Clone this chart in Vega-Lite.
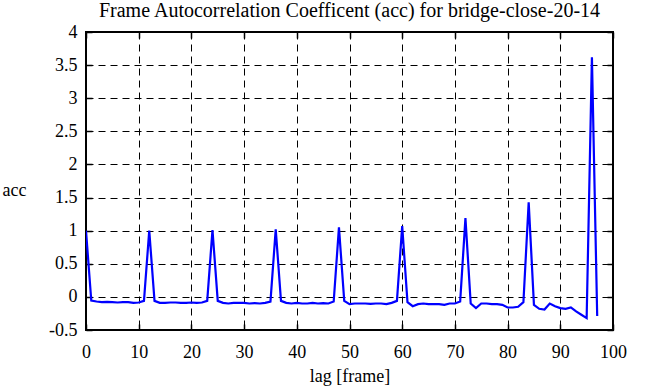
{
  "$schema": "https://vega.github.io/schema/vega-lite/v6.json",
  "width": 527,
  "height": 298,
  "autosize": {"type": "none"},
  "padding": {"left": 86, "top": 32, "right": 53, "bottom": 57},
  "background": "white",
  "title": {
    "text": "Frame Autocorrelation Coefficent (acc) for bridge-close-20-14",
    "font": "Liberation Serif",
    "fontSize": 20,
    "fontWeight": "normal",
    "color": "black",
    "anchor": "middle",
    "offset": 12,
    "dy": 10
  },
  "config": {
    "view": {"stroke": "black", "strokeWidth": 2},
    "axis": {
      "labelFont": "Liberation Serif",
      "titleFont": "Liberation Serif",
      "labelFontSize": 18,
      "titleFontSize": 18,
      "titleFontWeight": "normal",
      "labelColor": "black",
      "titleColor": "black",
      "domain": false,
      "tickColor": "black",
      "tickWidth": 1.5,
      "gridColor": "black",
      "gridDash": [7, 5],
      "gridWidth": 1,
      "gridOpacity": 1
    }
  },
  "data": {
    "values": [
      {"lag": 0, "acc": 1.0}, {"lag": 1, "acc": -0.055}, {"lag": 2, "acc": -0.07}, {"lag": 3, "acc": -0.08},
      {"lag": 4, "acc": -0.075}, {"lag": 5, "acc": -0.08}, {"lag": 6, "acc": -0.085}, {"lag": 7, "acc": -0.08},
      {"lag": 8, "acc": -0.08}, {"lag": 9, "acc": -0.09}, {"lag": 10, "acc": -0.085}, {"lag": 11, "acc": -0.06},
      {"lag": 12, "acc": 1.0}, {"lag": 13, "acc": -0.06}, {"lag": 14, "acc": -0.09}, {"lag": 15, "acc": -0.09},
      {"lag": 16, "acc": -0.085}, {"lag": 17, "acc": -0.085}, {"lag": 18, "acc": -0.09}, {"lag": 19, "acc": -0.09},
      {"lag": 20, "acc": -0.085}, {"lag": 21, "acc": -0.09}, {"lag": 22, "acc": -0.085}, {"lag": 23, "acc": -0.06},
      {"lag": 24, "acc": 1.01}, {"lag": 25, "acc": -0.06}, {"lag": 26, "acc": -0.09}, {"lag": 27, "acc": -0.1},
      {"lag": 28, "acc": -0.09}, {"lag": 29, "acc": -0.09}, {"lag": 30, "acc": -0.09}, {"lag": 31, "acc": -0.1},
      {"lag": 32, "acc": -0.095}, {"lag": 33, "acc": -0.1}, {"lag": 34, "acc": -0.09}, {"lag": 35, "acc": -0.07},
      {"lag": 36, "acc": 1.02}, {"lag": 37, "acc": -0.06}, {"lag": 38, "acc": -0.09}, {"lag": 39, "acc": -0.1},
      {"lag": 40, "acc": -0.09}, {"lag": 41, "acc": -0.1}, {"lag": 42, "acc": -0.1}, {"lag": 43, "acc": -0.09},
      {"lag": 44, "acc": -0.1}, {"lag": 45, "acc": -0.095}, {"lag": 46, "acc": -0.1}, {"lag": 47, "acc": -0.07},
      {"lag": 48, "acc": 1.05}, {"lag": 49, "acc": -0.06}, {"lag": 50, "acc": -0.11}, {"lag": 51, "acc": -0.1},
      {"lag": 52, "acc": -0.1}, {"lag": 53, "acc": -0.1}, {"lag": 54, "acc": -0.105}, {"lag": 55, "acc": -0.1},
      {"lag": 56, "acc": -0.1}, {"lag": 57, "acc": -0.11}, {"lag": 58, "acc": -0.09}, {"lag": 59, "acc": -0.06},
      {"lag": 60, "acc": 1.07}, {"lag": 61, "acc": -0.08}, {"lag": 62, "acc": -0.14}, {"lag": 63, "acc": -0.11},
      {"lag": 64, "acc": -0.1}, {"lag": 65, "acc": -0.11}, {"lag": 66, "acc": -0.11}, {"lag": 67, "acc": -0.11},
      {"lag": 68, "acc": -0.12}, {"lag": 69, "acc": -0.1}, {"lag": 70, "acc": -0.1}, {"lag": 71, "acc": -0.07},
      {"lag": 72, "acc": 1.19}, {"lag": 73, "acc": -0.1}, {"lag": 74, "acc": -0.17}, {"lag": 75, "acc": -0.1},
      {"lag": 76, "acc": -0.1}, {"lag": 77, "acc": -0.11}, {"lag": 78, "acc": -0.11}, {"lag": 79, "acc": -0.12},
      {"lag": 80, "acc": -0.16}, {"lag": 81, "acc": -0.16}, {"lag": 82, "acc": -0.15}, {"lag": 83, "acc": -0.08},
      {"lag": 84, "acc": 1.43}, {"lag": 85, "acc": -0.12}, {"lag": 86, "acc": -0.18}, {"lag": 87, "acc": -0.19},
      {"lag": 88, "acc": -0.1}, {"lag": 89, "acc": -0.14}, {"lag": 90, "acc": -0.17}, {"lag": 91, "acc": -0.18},
      {"lag": 92, "acc": -0.16}, {"lag": 93, "acc": -0.22}, {"lag": 94, "acc": -0.27}, {"lag": 95, "acc": -0.32},
      {"lag": 96, "acc": 3.62}, {"lag": 97, "acc": -0.29}
    ]
  },
  "resolve": {"axis": {"x": "independent", "y": "independent"}},
  "layer": [
    {
      "mark": {"type": "line", "color": "#0000ff", "strokeWidth": 2.2, "clip": true},
      "encoding": {
        "x": {
          "field": "lag", "type": "quantitative",
          "scale": {"domain": [0, 100], "nice": false, "zero": false},
          "axis": {
            "title": "lag [frame]", "values": [0,10,20,30,40,50,60,70,80,90,100],
            "grid": true, "tickSize": -6, "labelPadding": 19, "titlePadding": 6,
            "labelFlush": false, "labelExpr": "'' + datum.value"
          }
        },
        "y": {
          "field": "acc", "type": "quantitative",
          "scale": {"domain": [-0.5, 4], "nice": false, "zero": false},
          "axis": {
            "title": "acc", "titleAngle": 0, "titleBaseline": "middle", "titleAlign": "center",
            "titleX": -72, "titleY": 158,
            "values": [-0.5,0,0.5,1,1.5,2,2.5,3,3.5,4],
            "grid": true, "tickSize": -6, "labelPadding": 15,
            "labelFlush": false, "labelExpr": "'' + datum.value"
          }
        }
      }
    },
    {
      "mark": {"type": "line", "opacity": 0},
      "encoding": {
        "x": {
          "field": "lag", "type": "quantitative",
          "scale": {"domain": [0, 100], "nice": false, "zero": false},
          "axis": {"orient": "top", "title": null, "labels": false, "grid": false, "tickSize": -6,
                   "values": [0,10,20,30,40,50,60,70,80,90,100]}
        },
        "y": {
          "field": "acc", "type": "quantitative",
          "scale": {"domain": [-0.5, 4], "nice": false, "zero": false},
          "axis": {"orient": "right", "title": null, "labels": false, "grid": false, "tickSize": -6,
                   "values": [-0.5,0,0.5,1,1.5,2,2.5,3,3.5,4]}
        }
      }
    }
  ]
}
